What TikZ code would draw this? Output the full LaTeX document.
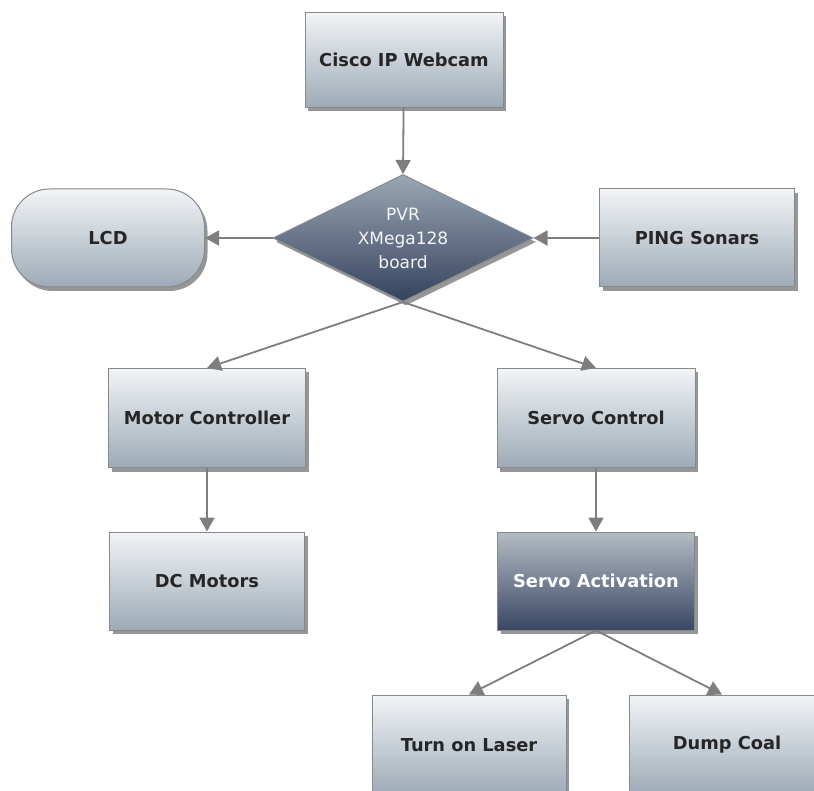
\documentclass[tikz,border=0pt]{standalone}
\usepackage{fontspec}
\setmainfont{DejaVu Sans}
\usetikzlibrary{shapes.geometric,shadows,arrows.meta}
\definecolor{boxtop}{HTML}{F2F4F6}
\definecolor{boxbot}{HTML}{9DAAB6}
\definecolor{darktop}{HTML}{9AA7B4}
\definecolor{darkbot}{HTML}{35425E}
\definecolor{acttop}{HTML}{B4BCC3}
\definecolor{actbot}{HTML}{3A4765}
\definecolor{edge}{HTML}{858A8F}
\definecolor{arr}{HTML}{7E7E7E}
\tikzset{
  x=1pt, y=-1pt,
  base/.style={draw=edge, line width=1pt, font=\fontsize{17.8}{21}\selectfont\bfseries,
    drop shadow={shadow xshift=3pt, shadow yshift=-4pt, opacity=0.55, fill=black!75},
    inner sep=0pt},
  lightbox/.style={base, rectangle, top color=boxtop, bottom color=boxbot, text=black!85},
  darkbox/.style={base, rectangle, top color=acttop, bottom color=actbot, text=white},
  flow/.style={draw=arr, line width=1.8pt, -{Triangle[length=14pt,width=15pt]}, arr},
}
\begin{document}
\begin{tikzpicture}
\useasboundingbox (0,0) rectangle (814,791);
\node[lightbox, minimum width=198pt, minimum height=95pt] (cam) at (404,60) {Cisco IP Webcam};
\node[lightbox, rounded corners=38pt, minimum width=193pt, minimum height=98pt] (lcd) at (108,238) {LCD};
\node[base, diamond, aspect=2.05, minimum width=260pt, minimum height=127pt,
      top color=darktop, bottom color=darkbot, text=white!92!gray, align=center,
      font=\fontsize{17}{24}\selectfont] (pvr) at (403,238) {PVR\\XMega128\\board};
\node[lightbox, minimum width=195pt, minimum height=98pt] (ping) at (697,238) {PING Sonars};
\node[lightbox, minimum width=197pt, minimum height=99pt] (motor) at (207,418) {Motor Controller};
\node[lightbox, minimum width=198pt, minimum height=99pt] (servo) at (596,418) {Servo Control};
\node[lightbox, minimum width=195pt, minimum height=98pt] (dc) at (207,581) {DC Motors};
\node[darkbox, minimum width=197pt, minimum height=98pt] (act) at (596,581) {Servo Activation};
\node[lightbox, minimum width=194pt, minimum height=100pt] (laser) at (469,745) {Turn on Laser};
\node[lightbox, minimum width=195pt, minimum height=100pt] (dump) at (727,745) {Dump Coal};
\draw[flow] (cam) -- (pvr.north);
\draw[flow] (pvr.west) -- (lcd.east);
\draw[flow] (ping.west) -- (pvr.east);
\draw[flow] (pvr.south) -- (motor.north);
\draw[flow] (pvr.south) -- (servo.north);
\draw[flow] (motor) -- (dc);
\draw[flow] (servo) -- (act);
\draw[flow] (act.south) -- (laser.north);
\draw[flow] (act.south) -- ([xshift=-5pt]dump.north);
\end{tikzpicture}
\end{document}
